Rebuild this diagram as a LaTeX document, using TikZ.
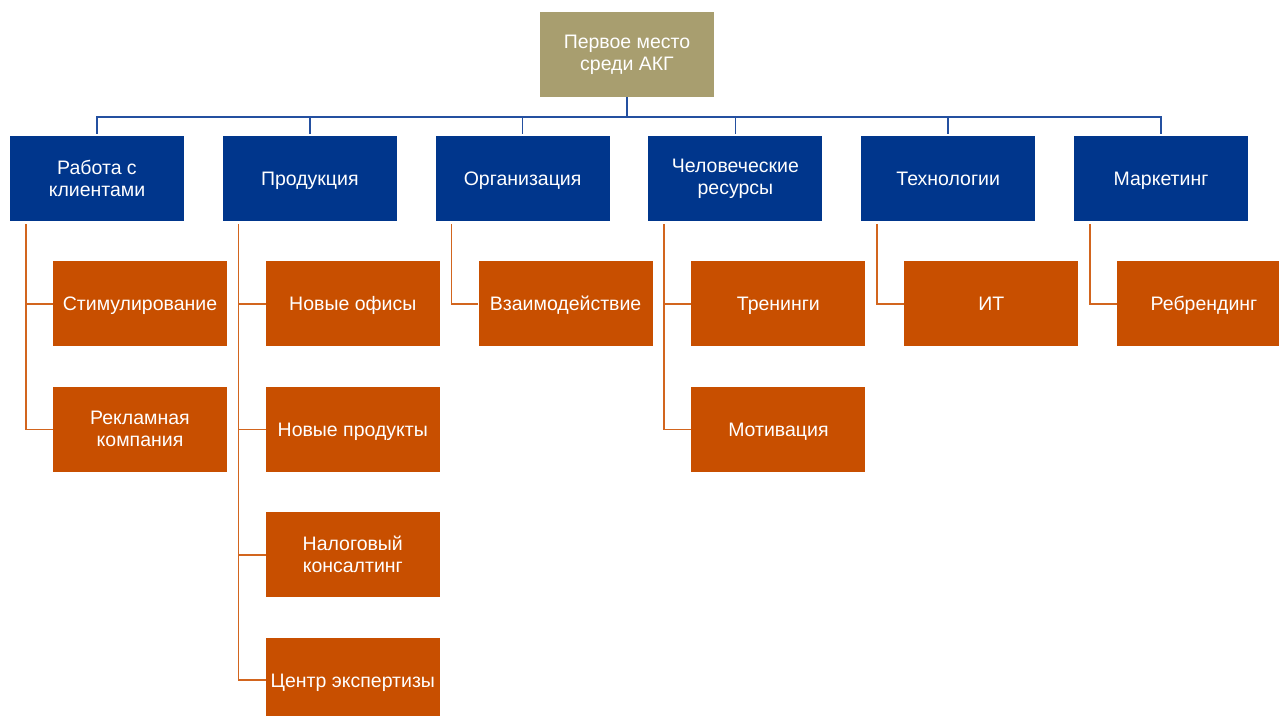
\documentclass[tikz,border=0pt]{standalone}
\usepackage{fontspec}
\setmainfont{Liberation Sans}
\usepackage{tikz}
\usetikzlibrary{positioning}
\definecolor{akgkhaki}{HTML}{A89E6F}
\definecolor{akgblue}{HTML}{00368C}
\definecolor{akgorange}{HTML}{C84F00}
\definecolor{akgbus}{HTML}{2450A0}
\definecolor{akgleg}{HTML}{D2651E}

\begin{document}
\begin{tikzpicture}[node distance=40pt and 38.4pt,
    every node/.style={font=\fontsize{19.5}{22}\selectfont, text=white, align=center, inner sep=0pt, minimum width=174pt, minimum height=85pt},
    goal/.style={fill=akgkhaki},
    area/.style={fill=akgblue},
    task/.style={fill=akgorange},
    oneline/.style={text height=14pt, text depth=0pt},
    bus/.style={draw=akgbus, line width=1.6pt},
    leg/.style={draw=akgleg, line width=1.6pt}]
    \clip (0,0) rectangle (1279pt,-715pt);
    \node[goal] (goal) at (627pt,-54.5pt) {Первое место\\среди АКГ};
    % first level
    \node[area] (clients) at (97pt,-178.5pt) {Работа с\\клиентами};
    \node[area, oneline, right=of clients] (products) {Продукция};
    \node[area, oneline, right=of products] (org) {Организация};
    \node[area, right=of org] (hr) {Человеческие\\ресурсы};
    \node[area, oneline, right=of hr] (tech) {Технологии};
    \node[area, oneline, right=of tech] (mkt) {Маркетинг};
    % second level
    \node[task, oneline, below=of clients, xshift=43pt] (stim) {Стимулирование};
    \node[task, below=of stim] (adv) {Рекламная\\компания};
    \node[task, oneline, below=of products, xshift=43pt] (offices) {Новые офисы};
    \node[task, oneline, below=of offices] (newprod) {Новые продукты};
    \node[task, below=of newprod] (tax) {Налоговый\\консалтинг};
    \node[task, oneline, below=of tax] (expert) {Центр экспертизы};
    \node[task, oneline, below=of org, xshift=43pt] (inter) {Взаимодействие};
    \node[task, oneline, below=of hr, xshift=43pt] (train) {Тренинги};
    \node[task, oneline, below=of train] (motiv) {Мотивация};
    \node[task, oneline, below=of tech, xshift=43pt] (it) {ИТ};
    \node[task, oneline, below=of mkt, xshift=43pt] (rebrand) {Ребрендинг};
    % blue connectors
    \draw[bus] (goal.south) -- ++(0,-20pt) coordinate (hub);
    \draw[bus] (clients.north) ++(0,2pt) |- (hub) -| ([yshift=2pt]mkt.north);
    \draw[bus] (hub) -| ([yshift=2pt]products.north);
    \draw[bus] (hub) -| ([yshift=2pt]org.north);
    \draw[bus] (hub) -| ([yshift=2pt]hr.north);
    \draw[bus] (hub) -| ([yshift=2pt]tech.north);
    % orange connectors
    \draw[leg] ([xshift=16pt,yshift=-3pt]clients.south west) |- (stim.west);
    \draw[leg] ([xshift=16pt,yshift=-3pt]clients.south west) |- (adv.west);
    \draw[leg] ([xshift=16pt,yshift=-3pt]products.south west) |- (offices.west);
    \draw[leg] ([xshift=16pt,yshift=-3pt]products.south west) |- (newprod.west);
    \draw[leg] ([xshift=16pt,yshift=-3pt]products.south west) |- (tax.west);
    \draw[leg] ([xshift=16pt,yshift=-3pt]products.south west) |- (expert.west);
    \draw[leg] ([xshift=16pt,yshift=-3pt]org.south west) |- (inter.west);
    \draw[leg] ([xshift=16pt,yshift=-3pt]hr.south west) |- (train.west);
    \draw[leg] ([xshift=16pt,yshift=-3pt]hr.south west) |- (motiv.west);
    \draw[leg] ([xshift=16pt,yshift=-3pt]tech.south west) |- (it.west);
    \draw[leg] ([xshift=16pt,yshift=-3pt]mkt.south west) |- (rebrand.west);
  \end{tikzpicture}
\end{document}
